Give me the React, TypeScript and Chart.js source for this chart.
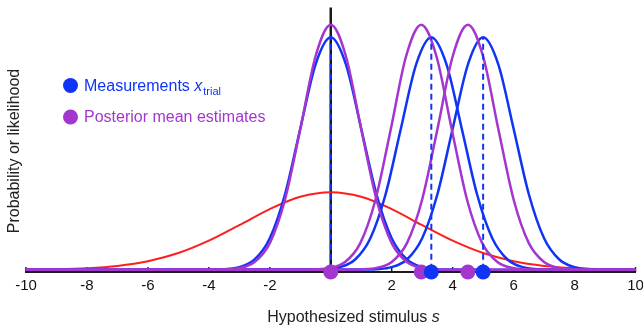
import React, { useEffect, useRef } from "react";
import { Chart, registerables } from "chart.js";

Chart.register(...registerables);

// ---- data ----
const X_MIN = -10;
const X_MAX = 10;
const Y_MIN = -0.004;
const Y_MAX = 0.45;
const TICK_VALUES = [-10, -8, -6, -4, -2, 0, 2, 4, 6, 8, 10];
const TICK_LABELS = ["-10", "-8", "-6", "-4", "-2", "", "2", "4", "6", "8", "10"];

// Prior (red)
const priorX = [-10, -9, -8, -7, -6, -5, -4, -3, -2, -1, 0, 1, 2, 3, 4, 5, 6, 7, 8, 9, 10];
const priorY = [0.0003, 0.0009, 0.0026, 0.0065, 0.0145, 0.0285, 0.0497, 0.0764, 0.104, 0.1251, 0.133,
  0.1251, 0.104, 0.0764, 0.0497, 0.0285, 0.0145, 0.0065, 0.0026, 0.0009, 0.0003];

// Likelihood shape values (blue), shared by the three measurement curves
const likeY = [0, 0.0001, 0.0009, 0.0044, 0.0175, 0.054, 0.1295, 0.242, 0.3521, 0.3989,
  0.3521, 0.242, 0.1295, 0.054, 0.0175, 0.0044, 0.0009, 0.0001, 0];
// Posterior shape values (purple)
const postY = [0, 0.00006, 0.0005, 0.0028, 0.0131, 0.0456, 0.1205, 0.2412, 0.3659, 0.4204,
  0.3659, 0.2412, 0.1205, 0.0456, 0.0131, 0.0028, 0.0005, 0.00006, 0];

const blue0X = [-10, -4, -3.5, -3, -2.5, -2, -1.5, -1, -0.5, 0, 0.5, 1, 1.5, 2, 2.5, 3, 3.5, 4, 10];
const blue1X = [-10, -0.7, -0.2, 0.3, 0.8, 1.3, 1.8, 2.3, 2.8, 3.3, 3.8, 4.3, 4.8, 5.3, 5.8, 6.3, 6.8, 7.3, 10];
const blue2X = [-10, 1, 1.5, 2, 2.5, 3, 3.5, 4, 4.5, 5, 5.5, 6, 6.5, 7, 7.5, 8, 8.5, 9, 10];

const purple0X = [-10, -4, -3.5, -3, -2.5, -2, -1.5, -1, -0.5, 0, 0.5, 1, 1.5, 2, 2.5, 3, 3.5, 4, 10];
const purple1X = [-10, -1.03, -0.53, -0.03, 0.47, 0.97, 1.47, 1.97, 2.47, 2.97, 3.47, 3.97, 4.47, 4.97, 5.47, 5.97, 6.47, 6.97, 10];
const purple2X = [-10, 0.5, 1, 1.5, 2, 2.5, 3, 3.5, 4, 4.5, 5, 5.5, 6, 6.5, 7, 7.5, 8, 8.5, 10];

const measurements = [0, 3.3, 5.0];
const measurementPeak = 0.3989;
const measurementDots = [3.3, 5.0];
const posteriorMeans = [0, 2.97, 4.5];

const BLUE = "#1034f5";
const PURPLE = "#a336cf";
const RED = "#ff1e1e";
const BLACK = "#1a1a1a";
const FONT = "'Liberation Sans', Arial, Helvetica, sans-serif";

const zip = (xs: number[], ys: number[]) => xs.map((x, i) => ({ x, y: ys[i] }));

const overlayPlugin = {
  id: "overlay",
  beforeDatasetsDraw(chart: any) {
    const { ctx, chartArea, scales } = chart;
    const xs = scales.x;
    ctx.save();
    ctx.strokeStyle = BLACK;
    ctx.lineWidth = 1.5;
    TICK_VALUES.forEach((v) => {
      const px = xs.getPixelForValue(v);
      ctx.beginPath();
      ctx.moveTo(px, chartArea.bottom);
      ctx.lineTo(px, chartArea.bottom - 5);
      ctx.stroke();
    });
    ctx.restore();
  },
  afterDraw(chart: any) {
    const { ctx } = chart;
    ctx.save();
    // legend
    ctx.fillStyle = BLUE;
    ctx.beginPath();
    ctx.arc(70.5, 85.5, 7.5, 0, Math.PI * 2);
    ctx.fill();
    ctx.fillStyle = PURPLE;
    ctx.beginPath();
    ctx.arc(70.5, 117, 7.5, 0, Math.PI * 2);
    ctx.fill();

    ctx.textBaseline = "alphabetic";
    ctx.textAlign = "left";
    ctx.fillStyle = BLUE;
    ctx.font = `16px ${FONT}`;
    const t1 = "Measurements ";
    ctx.fillText(t1, 84, 91);
    let x = 84 + ctx.measureText(t1).width;
    ctx.font = `italic 16px ${FONT}`;
    ctx.fillText("x", x, 91);
    x += ctx.measureText("x").width + 1;
    ctx.font = `11px ${FONT}`;
    ctx.fillText("trial", x, 95);

    ctx.fillStyle = PURPLE;
    ctx.font = `16px ${FONT}`;
    ctx.fillText("Posterior mean estimates", 84, 122);

    // x axis title
    ctx.fillStyle = "#222";
    const a = "Hypothesized stimulus ";
    ctx.font = `16px ${FONT}`;
    const wa = ctx.measureText(a).width;
    ctx.font = `italic 16px ${FONT}`;
    const wb = ctx.measureText("s").width;
    let sx = 353.5 - (wa + wb) / 2;
    ctx.font = `16px ${FONT}`;
    ctx.fillText(a, sx, 322);
    ctx.font = `italic 16px ${FONT}`;
    ctx.fillText("s", sx + wa, 322);

    // y axis title
    ctx.translate(14.5, 151);
    ctx.rotate(-Math.PI / 2);
    ctx.textAlign = "center";
    ctx.textBaseline = "middle";
    ctx.font = `16px ${FONT}`;
    ctx.fillText("Probability or likelihood", 0, 0);
    ctx.restore();
  },
};

export default function App() {
  const ref = useRef<HTMLCanvasElement>(null);

  useEffect(() => {
    if (!ref.current) return;
    const curve = (xs: number[], ys: number[], color: string, order: number, width = 2.5) => ({
      data: zip(xs, ys),
      borderColor: color,
      borderWidth: width,
      pointRadius: 0,
      cubicInterpolationMode: "monotone",
      fill: false,
      clip: false,
      order,
    });
    const datasets: any[] = [
      {
        data: measurementDots.map((x) => ({ x, y: Y_MIN })),
        showLine: false,
        pointRadius: 7.5,
        pointBackgroundColor: BLUE,
        pointBorderWidth: 0,
        borderColor: BLUE,
        clip: false,
        order: 0,
      },
      {
        data: posteriorMeans.map((x) => ({ x, y: Y_MIN })),
        showLine: false,
        pointRadius: 7.5,
        pointBackgroundColor: PURPLE,
        pointBorderWidth: 0,
        borderColor: PURPLE,
        clip: false,
        order: 1,
      },
      ...measurements.map((m) => ({
        data: [{ x: m, y: 0 }, { x: m, y: measurementPeak }],
        borderColor: BLUE,
        borderWidth: 2,
        borderDash: [6, 4],
        pointRadius: 0,
        clip: false,
        order: 2,
      })),
      curve(purple0X, postY, PURPLE, 3),
      curve(purple1X, postY, PURPLE, 3),
      curve(purple2X, postY, PURPLE, 3),
      curve(blue0X, likeY, BLUE, 4),
      curve(blue1X, likeY, BLUE, 4),
      curve(blue2X, likeY, BLUE, 4),
      curve(priorX, priorY, RED, 5, 2),
      {
        data: [{ x: 0, y: 0 }, { x: 0, y: Y_MAX }],
        borderColor: BLACK,
        borderWidth: 2.5,
        pointRadius: 0,
        clip: false,
        order: 6,
      },
    ];

    const chart = new Chart(ref.current, {
      type: "line",
      data: { datasets },
      plugins: [overlayPlugin],
      options: {
        animation: false,
        responsive: false,
        events: [],
        layout: { padding: { left: 26, right: 4, top: 5, bottom: 0 } },
        plugins: { legend: { display: false }, tooltip: { enabled: false } },
        scales: {
          x: {
            type: "linear",
            min: X_MIN,
            max: X_MAX,
            afterBuildTicks: (axis: any) => {
              axis.ticks = TICK_VALUES.map((v) => ({ value: v }));
            },
            afterFit: (axis: any) => {
              axis.height = 57;
              axis.paddingLeft = 0;
              axis.paddingRight = 0;
            },
            grid: { display: false, drawTicks: false },
            border: { display: true, color: BLACK, width: 2 },
            ticks: {
              padding: 5,
              maxRotation: 0,
              autoSkip: false,
              color: "#111",
              font: { family: FONT, size: 15 },
              callback: (_v: any, i: number) => TICK_LABELS[i],
            },
          },
          y: {
            type: "linear",
            display: false,
            min: Y_MIN,
            max: Y_MAX,
          },
        },
      } as any,
    });
    return () => chart.destroy();
  }, []);

  return (
    <div style={{ position: "absolute", left: 0, top: 0, width: 643, height: 329, background: "#fff" }}>
      <canvas ref={ref} width={643} height={329} style={{ display: "block" }} />
    </div>
  );
}
